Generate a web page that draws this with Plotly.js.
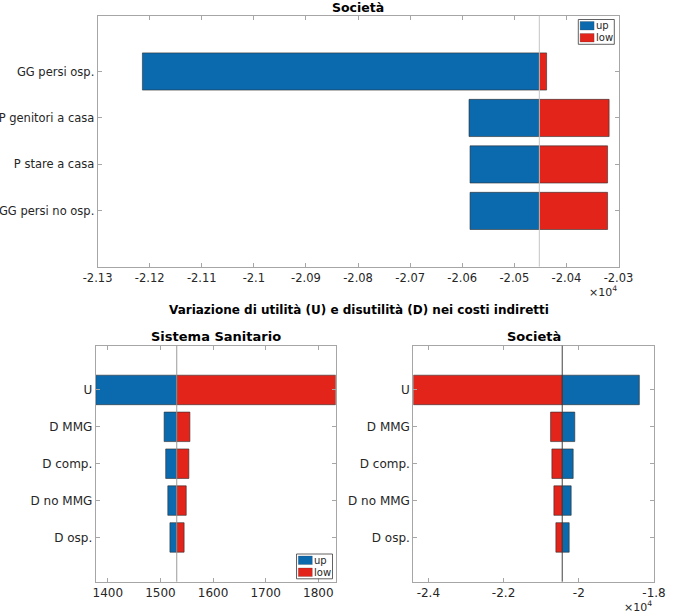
<!DOCTYPE html>
<html><head><meta charset="utf-8">
<script src="https://cdn.plot.ly/plotly-3.0.1.min.js"></script>
<style>html,body{margin:0;padding:0;background:#fff}</style>
</head><body><div id="chart" style="width:683px;height:613px"></div>
<script>
// ---- data ----
const topCategories = ["GG persi osp.", "P genitori a casa", "P stare a casa", "GG persi no osp."];
const topBaseline = -20452;
const topUp = [-21214, -20587, -20585, -20585];
const topLow = [-20438, -20318, -20321, -20321];
const topTickVals = [-21300, -21200, -21100, -21000, -20900, -20800, -20700, -20600, -20500, -20400, -20300];
const topTickText = ["-2.13", "-2.12", "-2.11", "-2.1", "-2.09", "-2.08", "-2.07", "-2.06", "-2.05", "-2.04", "-2.03"];

const utilCategories = ["U", "D MMG", "D comp.", "D no MMG", "D osp."];
const ssBaseline = 1531;
const ssUp = [1377, 1507, 1510, 1514, 1518];
const ssLow = [1833, 1556, 1554, 1549, 1545];
const ssTickVals = [1400, 1500, 1600, 1700, 1800];

const socBaseline = -20440;
const socUp = [-18390, -20106, -20149, -20202, -20255];
const socLow = [-24400, -20750, -20715, -20662, -20609];
const socTickVals = [-24000, -22000, -20000, -18000];
const socTickText = ["-2.4", "-2.2", "-2", "-1.8"];

const seriesNames = ["up", "low"];

// ---- styling ----
const W = 683, H = 613;
const BLUE = "#0b6aae", RED = "#e2241b";
const COLORS = [BLUE, RED];
const FONT = "DejaVu Sans";
const TXT = "#262626";
const px = v => v / W, py = v => 1 - v / H;

function bars(cats, vals, base, name, color, xa, ya) {
  return {
    type: "bar", orientation: "h", name: name,
    y: cats.map((c, i) => i),
    x: vals.map(v => v - base),
    base: vals.map(() => base),
    width: 0.8,
    marker: {color: color, line: {color: "rgba(45,45,45,0.75)", width: 0.8}},
    xaxis: xa, yaxis: ya, showlegend: false,
    hoverinfo: "skip"
  };
}

const data = [
  bars(topCategories, topUp, topBaseline, seriesNames[0], BLUE, "x", "y"),
  bars(topCategories, topLow, topBaseline, seriesNames[1], RED, "x", "y"),
  bars(utilCategories, ssUp, ssBaseline, seriesNames[0], BLUE, "x2", "y2"),
  bars(utilCategories, ssLow, ssBaseline, seriesNames[1], RED, "x2", "y2"),
  bars(utilCategories, socUp, socBaseline, seriesNames[0], BLUE, "x3", "y3"),
  bars(utilCategories, socLow, socBaseline, seriesNames[1], RED, "x3", "y3")
];

function xax(domain, range, anchor, tickvals, ticktext, size) {
  const a = {
    domain: domain, range: range, anchor: anchor,
    showgrid: false, zeroline: false, showline: true, mirror: "ticks",
    linecolor: "#a6a6a6", linewidth: 1,
    ticks: "inside", ticklen: 4, tickcolor: "#a6a6a6",
    tickvals: tickvals, tickfont: {family: FONT, size: size, color: TXT},
    fixedrange: true
  };
  if (ticktext) a.ticktext = ticktext;
  return a;
}
function yax(domain, cats, anchor, size) {
  return {
    domain: domain, range: [cats.length - 1 + 1.2, -1.2], anchor: anchor,
    showgrid: false, zeroline: false, showline: true, mirror: "ticks",
    linecolor: "#a6a6a6", linewidth: 1,
    ticks: "inside", ticklen: 4, tickcolor: "#a6a6a6",
    tickvals: cats.map((c, i) => i), ticktext: cats,
    tickfont: {family: FONT, size: size, color: TXT},
    fixedrange: true
  };
}

function vline(xref, yref, x, color) {
  return {type: "line", xref: xref, yref: yref + " domain", x0: x, x1: x, y0: 0, y1: 1,
          line: {color: color, width: 1}, layer: "above"};
}
function ann(text, x, y, size, bold, xanchor) {
  return {text: bold ? "<b>" + text + "</b>" : text, xref: "paper", yref: "paper",
          x: px(x), y: py(y), xanchor: xanchor || "center", yanchor: "middle",
          showarrow: false, font: {family: FONT, size: size, color: bold ? "#000" : TXT}};
}
function rect(x0, y0, x1, y1, fill, lineColor, lw) {
  return {type: "rect", xref: "paper", yref: "paper",
          x0: px(x0), x1: px(x1), y0: py(y1), y1: py(y0),
          fillcolor: fill, line: {color: lineColor, width: lw}, layer: "above"};
}

// compact MATLAB-like legend box (left, top)
function legendBox(left, top, shapes, annotations) {
  const rowH = 12;
  shapes.push(rect(left, top, left + 36, top + 2 * rowH + 0.8, "#ffffff", "#3a3a3a", 0.8));
  seriesNames.forEach((nm, i) => {
    const y0 = top + 2 + i * rowH;
    shapes.push(rect(left + 1.8, y0, left + 15.8, y0 + 8.5, COLORS[i], "rgba(60,60,60,0.5)", 0.5));
    annotations.push({text: nm, xref: "paper", yref: "paper", x: px(left + 16.3), y: py(y0 + 4.4),
      xanchor: "left", yanchor: "middle", showarrow: false, borderpad: 0,
      font: {family: FONT, size: 10, color: TXT}});
  });
}

const shapes = [
  vline("x", "y", topBaseline, "#c4c4c4"),
  vline("x2", "y2", ssBaseline, "#9a9a9a"),
  vline("x3", "y3", socBaseline, "#404040")
];
const annotations = [
  ann("Società", 358, 7.5, 12.5, true),
  ann("Variazione di utilità (U) e disutilità (D) nei costi indiretti", 359, 310, 12, true),
  ann("Sistema Sanitario", 215.7, 336.5, 13, true),
  ann("Società", 533.7, 336.5, 13, true),
  ann("×10<sup>4</sup>", 618.5, 291, 11, false, "right"),
  ann("×10<sup>4</sup>", 654, 606, 11, false, "right")
];
legendBox(578.3, 19.5, shapes, annotations);
legendBox(296.5, 554, shapes, annotations);

const layout = {
  width: W, height: H, margin: {l: 0, r: 0, t: 0, b: 0},
  paper_bgcolor: "#fff", plot_bgcolor: "#fff",
  barmode: "overlay", showlegend: false,
  xaxis: xax([px(97.6), px(618.5)], [-21300, -20300], "y", topTickVals, topTickText, 11.5),
  yaxis: yax([py(266.7), py(15.7)], topCategories, "x", 11.5),
  xaxis2: xax([px(95.7), px(335.7)], [1377, 1833], "y2", ssTickVals, null, 12),
  yaxis2: yax([py(581.7), py(345.7)], utilCategories, "x2", 12),
  xaxis3: xax([px(413.3), px(654)], [-24400, -18000], "y3", socTickVals, socTickText, 12),
  yaxis3: yax([py(581.7), py(345.7)], utilCategories, "x3", 12),
  shapes: shapes,
  annotations: annotations
};

Plotly.newPlot("chart", data, layout, {displayModeBar: false, staticPlot: true});
</script>
</body></html>
